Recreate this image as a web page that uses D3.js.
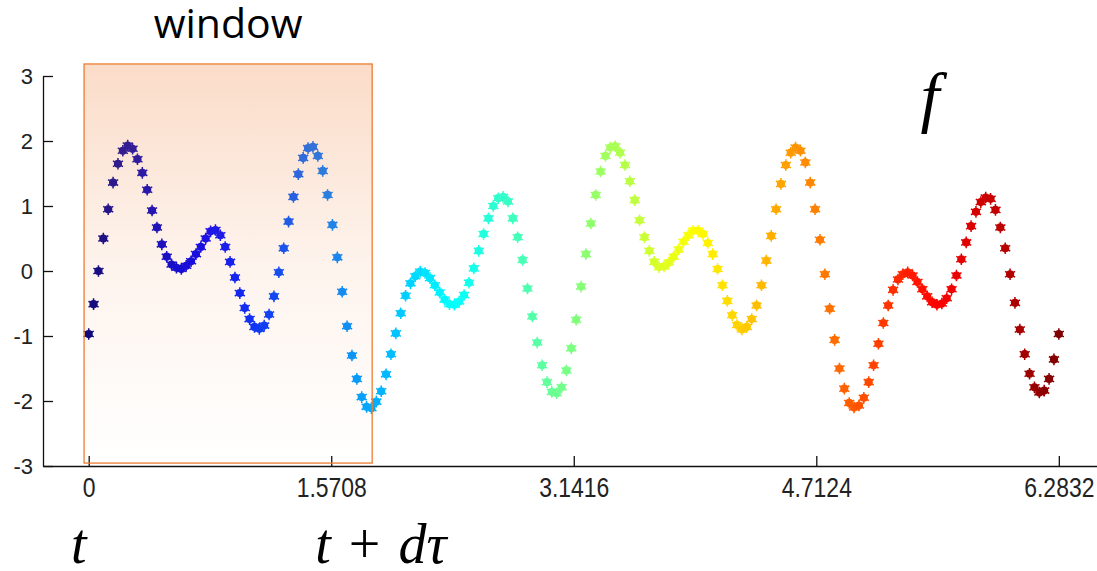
<!DOCTYPE html>
<html>
<head>
<meta charset="utf-8">
<script src="https://cdn.jsdelivr.net/npm/d3@7"></script>
<style>
  body { margin: 0; background: #fff; }
</style>
</head>
<body>
<svg id="chart" width="1097" height="571"></svg>
<script>
// f(t), 200 samples evenly spaced from 0 to 2*pi
const tMax = 6.2832;
const fValues = [
  -0.97, -0.51, 0.00, 0.50, 0.95, 1.36, 1.65, 1.85, 1.93, 1.88,
  1.72, 1.51, 1.25, 0.93, 0.67, 0.41, 0.22, 0.10, 0.05, 0.03,
  0.08, 0.15, 0.26, 0.37, 0.50, 0.61, 0.63, 0.55, 0.37, 0.14,
  -0.10, -0.34, -0.57, -0.74, -0.86, -0.89, -0.84, -0.67, -0.39, -0.02,
  0.35, 0.76, 1.14, 1.49, 1.74, 1.89, 1.91, 1.77, 1.54, 1.17,
  0.71, 0.21, -0.32, -0.85, -1.30, -1.66, -1.94, -2.09, -2.11, -2.01,
  -1.85, -1.59, -1.28, -0.96, -0.65, -0.38, -0.19, -0.08, -0.01, -0.03,
  -0.11, -0.22, -0.33, -0.44, -0.51, -0.52, -0.47, -0.37, -0.18, 0.04,
  0.31, 0.57, 0.81, 1.00, 1.12, 1.14, 1.07, 0.81, 0.52, 0.17,
  -0.27, -0.70, -1.10, -1.45, -1.71, -1.86, -1.88, -1.79, -1.53, -1.19,
  -0.75, -0.24, 0.26, 0.73, 1.17, 1.53, 1.77, 1.90, 1.92, 1.82,
  1.63, 1.38, 1.09, 0.78, 0.52, 0.31, 0.14, 0.06, 0.07, 0.13,
  0.22, 0.33, 0.45, 0.55, 0.62, 0.62, 0.57, 0.43, 0.26, 0.03,
  -0.22, -0.46, -0.68, -0.83, -0.90, -0.86, -0.74, -0.53, -0.22, 0.16,
  0.54, 0.95, 1.34, 1.63, 1.82, 1.90, 1.85, 1.67, 1.36, 0.95,
  0.48, -0.05, -0.58, -1.06, -1.50, -1.81, -2.03, -2.10, -2.07, -1.95,
  -1.71, -1.45, -1.12, -0.80, -0.53, -0.29, -0.13, -0.05, -0.02, -0.07,
  -0.17, -0.28, -0.39, -0.48, -0.52, -0.50, -0.42, -0.28, -0.07, 0.18,
  0.44, 0.69, 0.91, 1.06, 1.13, 1.11, 0.94, 0.67, 0.35, -0.05,
  -0.49, -0.90, -1.28, -1.58, -1.79, -1.87, -1.84, -1.66, -1.36, -0.97
];
const xTickValues = [0, 1.5708, 3.1416, 4.7124, 6.2832];
const xTickLabels = ["0", "1.5708", "3.1416", "4.7124", "6.2832"];
const yTickValues = [-3, -2, -1, 0, 1, 2, 3];

// highlighted window (data units)
const windowT = [-0.03, 1.836];
const windowF = [-2.955, 3.185];

// jet colormap
const jetStops = [0, 0.125, 0.375, 0.625, 0.875, 1];
const jetColors = ["#00007f", "#0000ff", "#00ffff", "#ffff00", "#ff0000", "#7f0000"];

const svg = d3.select("#chart");
const n = fValues.length;
const tOf = i => i * tMax / (n - 1);

const x = d3.scaleLinear().domain([-0.296, 6.579]).range([43, 1104.5]);
const y = d3.scaleLinear().domain([-3, 3]).range([466, 76]);
const jet = d3.scaleLinear().domain(jetStops).range(jetColors);

svg.append("rect").attr("width", 1097).attr("height", 571).attr("fill", "#fff");

// gradient for the window overlay
const grad = svg.append("defs").append("linearGradient")
    .attr("id", "winGrad")
    .attr("x1", 0).attr("y1", 0).attr("x2", 0).attr("y2", 1);
grad.append("stop").attr("offset", 0).attr("stop-color", "#f08a48").attr("stop-opacity", 0.3);
grad.append("stop").attr("offset", 0.5).attr("stop-color", "#f08a48").attr("stop-opacity", 0.1);
grad.append("stop").attr("offset", 1).attr("stop-color", "#f08a48").attr("stop-opacity", 0);

// X axis, ticks pointing up
const xAxis = svg.append("g")
    .attr("transform", `translate(0,${y(-3)})`)
    .call(d3.axisBottom(x)
        .tickValues(xTickValues)
        .tickFormat((d, i) => xTickLabels[i])
        .tickSize(-10)
        .tickSizeOuter(0)
        .tickPadding(11));
xAxis.attr("font-family", "'Liberation Sans', Arial, sans-serif").attr("font-size", 28);
xAxis.selectAll("text").attr("fill", "#222").attr("transform", "scale(0.82,1)");
xAxis.selectAll("line, path").attr("stroke", "#111").attr("stroke-width", 1.3);

// Y axis, ticks pointing right (plain hyphen for negatives, like matlab)
const yAxis = svg.append("g")
    .attr("transform", `translate(${x.range()[0]},0)`)
    .call(d3.axisLeft(y)
        .tickValues(yTickValues)
        .tickFormat(d => String(d))
        .tickSize(-10)
        .tickSizeOuter(0)
        .tickPadding(10));
yAxis.attr("font-family", "'Liberation Sans', Arial, sans-serif").attr("font-size", 22);
yAxis.selectAll("text").attr("fill", "#222");
yAxis.selectAll("line, path").attr("stroke", "#111").attr("stroke-width", 1.3);

// the samples, star-ish markers coloured with jet
const marks = svg.append("g").selectAll("g")
    .data(fValues)
    .join("g")
    .attr("transform", (d, i) => `translate(${x(tOf(i))},${y(d)})`);
marks.append("circle")
    .attr("r", 4.1)
    .attr("fill", (d, i) => jet(i / (n - 1)));
marks.append("path")
    .attr("d", d3.symbol(d3.symbolAsterisk, 95))
    .attr("fill", "none")
    .attr("stroke", (d, i) => jet(i / (n - 1)))
    .attr("stroke-width", 1.5);

// window drawn over the points
svg.append("rect")
    .attr("x", x(windowT[0]))
    .attr("y", y(windowF[1]))
    .attr("width", x(windowT[1]) - x(windowT[0]))
    .attr("height", y(windowF[0]) - y(windowF[1]))
    .attr("fill", "url(#winGrad)")
    .attr("stroke", "#ed7d31")
    .attr("stroke-width", 1.3);

svg.append("text")
    .attr("x", (x(windowT[0]) + x(windowT[1])) / 2)
    .attr("y", 38)
    .attr("text-anchor", "middle")
    .attr("font-family", "'Open Sans', sans-serif")
    .attr("font-size", 41)
    .attr("fill", "#000")
    .text("window");

// math labels
const mathFont = "'Liberation Serif', 'Times New Roman', serif";
svg.append("text")
    .attr("x", 930)
    .attr("y", 120)
    .attr("text-anchor", "middle")
    .attr("font-family", mathFont)
    .attr("font-style", "italic")
    .attr("font-size", 68)
    .text("f");

svg.append("text")
    .attr("x", x(xTickValues[0]) - 10)
    .attr("y", 563)
    .attr("text-anchor", "middle")
    .attr("font-family", mathFont)
    .attr("font-style", "italic")
    .attr("font-size", 56)
    .text("t");

const tdt = svg.append("text")
    .attr("x", x(xTickValues[1]) - 16)
    .attr("y", 563)
    .attr("font-family", mathFont)
    .attr("font-size", 56);
tdt.append("tspan").attr("font-style", "italic").text("t");
tdt.append("tspan").attr("dx", 18).text("+");
tdt.append("tspan").attr("dx", 18).attr("font-style", "italic").text("dτ");
</script>
</body>
</html>
